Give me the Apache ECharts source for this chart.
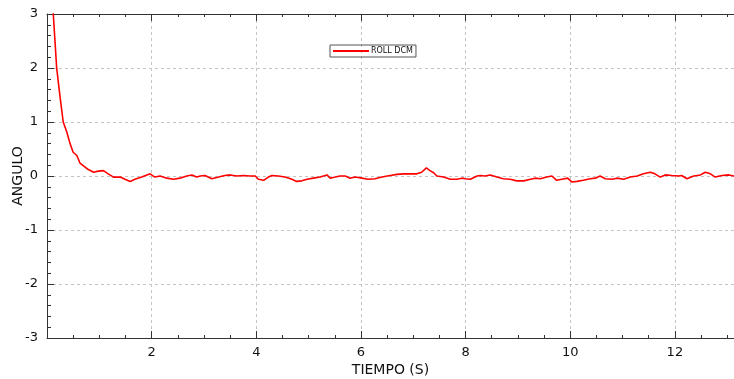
<!DOCTYPE html>
<html>
<head>
<meta charset="utf-8">
<script src="https://cdn.jsdelivr.net/npm/echarts@6/dist/echarts.min.js"></script>
<style>
  html, body { margin: 0; padding: 0; background: #ffffff; }
  #chart { width: 734px; height: 379px; }
</style>
</head>
<body>
<div id="chart"></div>
<script>
// tiempo (s) and angulo values
const tiempo = [
  0.10, 0.12, 0.185, 0.25, 0.31, 0.38, 0.44, 0.50, 0.57, 0.63, 0.66, 0.79, 0.89, 0.98,
  1.08, 1.17, 1.27, 1.40, 1.49, 1.59, 1.68, 1.81, 1.91, 1.97,
  2.06, 2.16, 2.29, 2.42, 2.54, 2.67, 2.77, 2.86, 2.93,
  3.02, 3.15, 3.28, 3.40, 3.50, 3.63, 3.75, 3.88, 3.98,
  4.04, 4.14, 4.23, 4.30, 4.42, 4.55, 4.68, 4.77, 4.87, 4.97,
  5.09, 5.22, 5.35, 5.41, 5.51, 5.60, 5.70, 5.79, 5.89,
  6.02, 6.14, 6.27, 6.40, 6.56, 6.69, 6.81, 6.94,
  7.07, 7.16, 7.25, 7.32, 7.39, 7.45, 7.58, 7.71, 7.83, 7.93, 7.99,
  8.09, 8.22, 8.28, 8.37, 8.47, 8.60, 8.72, 8.85, 8.98,
  9.11, 9.24, 9.33, 9.43, 9.55, 9.65, 9.74, 9.84, 9.95,
  10.03, 10.13, 10.25, 10.38, 10.48, 10.57, 10.67, 10.80, 10.89,
  11.02, 11.15, 11.28, 11.40, 11.53, 11.62, 11.72, 11.82, 11.94,
  12.07, 12.13, 12.23, 12.36, 12.49, 12.58, 12.68, 12.77, 12.90,
  13.03, 13.13
]
const rollDcm = [
  3.30, 3.00, 2.00, 1.46, 1.00, 0.81, 0.60, 0.44, 0.38, 0.24, 0.23, 0.12, 0.07, 0.09,
  0.10, 0.04, -0.02, -0.02, -0.06, -0.10, -0.06, -0.02, 0.02, 0.04,
  -0.02, 0.00, -0.04, -0.06, -0.04, 0.00, 0.02, -0.02, 0.00,
  0.01, -0.05, -0.02, 0.01, 0.02, 0.00, 0.01, 0.00, 0.00,
  -0.06, -0.08, -0.02, 0.01, 0.00, -0.02, -0.06, -0.10, -0.09, -0.06,
  -0.04, -0.02, 0.02, -0.04, -0.02, 0.00, 0.00, -0.04, -0.02,
  -0.04, -0.06, -0.05, -0.02, 0.01, 0.03, 0.04, 0.04,
  0.04, 0.07, 0.15, 0.10, 0.06, 0.00, -0.02, -0.06, -0.06, -0.04, -0.05,
  -0.06, 0.00, 0.01, 0.00, 0.02, -0.02, -0.05, -0.06, -0.09,
  -0.09, -0.06, -0.04, -0.05, -0.02, 0.00, -0.08, -0.06, -0.04,
  -0.11, -0.10, -0.08, -0.05, -0.04, 0.00, -0.05, -0.06, -0.04,
  -0.06, -0.02, 0.00, 0.04, 0.07, 0.04, -0.02, 0.02, 0.01,
  0.00, 0.01, -0.05, 0.00, 0.02, 0.07, 0.04, -0.02, 0.01,
  0.02, 0.00
]
const xTickLabels = ['2', '4', '6', '8', '10', '12']
const seriesName = 'ROLL DCM'

const chart = echarts.init(document.getElementById('chart'))

const axisFont = 'DejaVu Sans, Verdana, sans-serif'
const gridLine = { color: '#c4c4c4', type: [3, 3], width: 1 }

chart.setOption({
  animation: false,
  backgroundColor: '#ffffff',
  textStyle: { fontFamily: axisFont },
  grid: { left: 47, right: 0, top: 14, bottom: 41, containLabel: false, outerBoundsMode: 'none' },
  legend: {
    left: 330,
    top: 45,
    data: [{ name: seriesName, icon: 'rect' }],
    itemWidth: 36,
    itemHeight: 2,
    padding: [2, 3, 2, 3],
    borderColor: '#555555',
    borderWidth: 1,
    borderRadius: 0,
    textStyle: { fontSize: 8, color: '#111111', padding: [0, 0, 0, -3] }
  },
  xAxis: [
    {
      type: 'value',
      min: 0,
      max: 13.13,
      interval: 2,
      name: 'TIEMPO (S)',
      nameLocation: 'middle',
      nameGap: 25,
      nameMoveOverlap: false,
      nameTextStyle: { fontSize: 14, color: '#111111' },
      axisLine: { onZero: false, lineStyle: { color: '#333333', width: 1 } },
      axisTick: { inside: true, length: 7, lineStyle: { color: '#333333' } },
      minorTick: { show: true, splitNumber: 4, length: 3, lineStyle: { color: '#333333' } },
      axisLabel: {
        fontSize: 13,
        color: '#111111',
        margin: 8,
        showMaxLabel: false,
        formatter: (v) => (xTickLabels.includes(String(v)) ? String(v) : '')
      },
      splitLine: { show: true, lineStyle: gridLine }
    },
    {
      type: 'value',
      position: 'top',
      min: 0,
      max: 13.13,
      interval: 2,
      axisLine: { onZero: false, lineStyle: { color: '#333333', width: 1 } },
      axisTick: { inside: true, length: 7, lineStyle: { color: '#333333' } },
      minorTick: { show: true, splitNumber: 4, length: 3, lineStyle: { color: '#333333' } },
      axisLabel: { show: false },
      splitLine: { show: false }
    }
  ],
  yAxis: {
    type: 'value',
    min: -3,
    max: 3,
    interval: 1,
    name: 'ANGULO',
    nameLocation: 'middle',
    nameGap: 22,
    nameMoveOverlap: false,
    nameTextStyle: { fontSize: 14, color: '#111111' },
    axisLine: { onZero: false, lineStyle: { color: '#333333', width: 1 } },
    axisTick: { inside: true, length: 7, lineStyle: { color: '#333333' } },
    minorTick: { show: true, splitNumber: 5, length: 4, lineStyle: { color: '#333333' } },
    axisLabel: { fontSize: 13, color: '#111111', margin: 9 },
    splitLine: { show: true, lineStyle: gridLine }
  },
  series: [
    {
      name: seriesName,
      type: 'line',
      xAxisIndex: 0,
      data: tiempo.map((t, i) => [t, rollDcm[i]]),
      showSymbol: false,
      clip: true,
      lineStyle: { color: '#ff0000', width: 1.6 },
      itemStyle: { color: '#ff0000' }
    }
  ]
})
</script>
</body>
</html>
